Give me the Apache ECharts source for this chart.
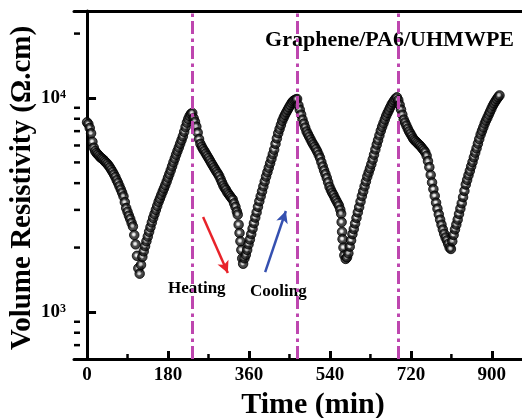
<!DOCTYPE html>
<html><head><meta charset="utf-8">
<script src="https://cdn.jsdelivr.net/npm/echarts@6/dist/echarts.min.js"></script>
<style>html,body{margin:0;padding:0;background:#fff}#c{width:522px;height:418px}</style>
</head><body><div id="c"></div>
<script>
// ---- data (time in min, volume resistivity in Ω.cm) ----
const xTickLabels = [0, 180, 360, 540, 720, 900];
const xMinorTicks = [90, 270, 450, 630, 810];
const yTickLabels = [1000, 10000];
const yMinorTicks = [600, 700, 800, 900, 2000, 3000, 4000, 5000, 6000, 7000, 8000, 9000, 20000];
const transitionTimes = [233, 467, 691];

const heat1T = [0,3,6,9,12,15,18,21,24,27,30,33,36,39,42,45,48,51,54,57,60,63,66,69,72,75,78,81,84,87,90,93,96,99,102,105,108,111,114,117];
const heat1V = [7700,7550,7240,6840,6240,5860,5650,5530,5450,5360,5270,5220,5150,5070,5000,4920,4830,4730,4620,4510,4390,4270,4130,4010,3870,3740,3610,3470,3260,3060,2940,2820,2720,2610,2510,2290,2070,1830,1600,1510];
const cool1T = [120,123,126,129,132,135,138,141,144,147,150,153,156,159,162,165,168,171,174,177,180,183,186,189,192,195,198,201,204,207,210,213,216,219,222,225,228,231,234];
const cool1V = [1660,1810,1920,2030,2140,2250,2370,2490,2620,2750,2870,3000,3130,3270,3390,3520,3650,3780,3920,4070,4240,4410,4590,4790,5000,5210,5430,5650,5870,6110,6350,6620,6950,7310,7670,7980,8240,8430,8510];
const heat2T = [237,240,243,246,249,252,255,258,261,264,267,270,273,276,279,282,285,288,291,294,297,300,303,306,309,312,315,318,321,324,327,330,333,335,337,339,341,343,345,347];
const heat2V = [8040,7730,7350,6890,6430,6110,5920,5770,5640,5500,5370,5240,5110,4980,4860,4740,4630,4520,4420,4310,4170,4030,3900,3800,3720,3620,3550,3480,3410,3350,3220,3100,2950,2850,2560,2340,2140,1950,1780,1680];
const cool2T = [350,353,356,359,362,365,368,371,374,377,380,383,386,389,392,395,398,401,404,407,410,413,416,419,422,425,428,431,434,437,440,443,446,449,452,455,458,461,464,467];
const cool2V = [1780,1850,1950,2070,2180,2310,2450,2600,2760,2920,3100,3290,3470,3660,3860,4070,4290,4500,4720,4950,5200,5460,5730,6100,6470,6840,7160,7480,7820,8090,8340,8570,8810,9040,9270,9490,9660,9770,9840,9890];
const heat3T = [470,473,476,479,482,485,488,491,494,497,500,503,506,509,512,515,518,521,524,527,530,533,536,539,542,545,548,551,554,557,560,563,565,566,567,568,570,572,575];
const heat3V = [9230,8810,8360,7930,7590,7280,6980,6780,6590,6400,6220,6070,5920,5770,5610,5430,5250,5010,4790,4590,4410,4230,4040,3850,3720,3610,3520,3410,3320,3230,3140,3010,2880,2630,2370,2190,2000,1840,1770];
const cool3T = [578,581,584,587,590,593,596,599,602,605,608,611,614,617,620,623,626,629,632,635,638,641,644,647,650,653,656,659,662,665,668,671,674,677,680,683,686,689];
const cool3V = [1800,1880,2020,2160,2310,2440,2590,2750,2920,3090,3280,3480,3660,3860,4070,4290,4480,4680,4900,5150,5430,5740,6050,6350,6680,7020,7330,7620,7930,8240,8510,8770,9040,9310,9530,9750,9930,10070];
const heat4T = [692,695,698,701,704,707,710,713,716,719,722,725,728,731,734,737,740,743,746,749,752,755,758,761,764,767,770,773,776,779,782,785,788,791,794,797,800,803,806,809];
const heat4V = [9770,9290,8830,8360,7930,7670,7430,7190,6980,6810,6640,6470,6350,6270,6170,6080,6000,5900,5790,5690,5570,5370,5070,4750,4370,4030,3750,3490,3240,3040,2860,2700,2560,2430,2320,2230,2160,2080,2000,1970];
const cool4T = [812,815,818,821,824,827,830,833,836,839,842,845,848,851,854,857,860,863,866,869,872,875,878,881,884,887,890,893,896,899,902,905,908,911,914,917];
const cool4V = [2140,2290,2430,2560,2700,2870,3040,3220,3440,3680,3940,4140,4350,4560,4790,5020,5280,5550,5820,6120,6430,6750,7020,7290,7590,7850,8090,8360,8630,8910,9200,9440,9660,9890,10090,10280];

// annotation arrows (data coordinates)
const heatArrow = [[258, 2780], [313, 1520]];
const coolArrow = [[396, 1537], [442, 2965]];

// ---- build ----
const segs = [[heat1T,heat1V],[cool1T,cool1V],[heat2T,heat2V],[cool2T,cool2V],[heat3T,heat3V],[cool3T,cool3V],[heat4T,heat4V],[cool4T,cool4V]];
const points = [];
segs.forEach(([t, v]) => t.forEach((x, i) => points.push([x, v[i]])));

const FONT = "'Liberation Serif','Times New Roman',serif";
const X_MIN = -29, X_MAX = 967, Y_MIN = 603, Y_MAX = 25500;

const chart = echarts.init(document.getElementById('c'), null, {renderer: 'canvas'});
chart.setOption({
  animation: false,
  backgroundColor: '#fff',
  grid: {left: 74, right: 0, top: 11, bottom: 59},
  xAxis: [{
    type: 'value', min: X_MIN, max: X_MAX, position: 'bottom',
    axisLine: {onZero: false, lineStyle: {color: '#000', width: 3}},
    axisTick: {inside: true, length: 8, customValues: xTickLabels, lineStyle: {color: '#000', width: 3}},
    axisLabel: {customValues: xTickLabels, color: '#000', fontSize: 19, fontWeight: 'bold', fontFamily: FONT, margin: 7},
    splitLine: {show: false}
  }, {
    type: 'value', min: X_MIN, max: X_MAX, position: 'top',
    axisLine: {onZero: false, lineStyle: {color: '#000', width: 3}},
    axisTick: {show: false}, axisLabel: {show: false}, splitLine: {show: false}
  }],
  yAxis: [{
    type: 'log', logBase: 10, min: Y_MIN, max: Y_MAX,
    axisLine: {lineStyle: {color: '#000', width: 3}},
    axisTick: {inside: true, length: 9, customValues: yTickLabels, lineStyle: {color: '#000', width: 3}},
    axisLabel: {
      margin: 8,
      customValues: yTickLabels,
      formatter: v => '{b|10}{s|' + Math.round(Math.log10(v)) + '}',
      rich: {
        b: {fontSize: 19, fontWeight: 'bold', fontFamily: FONT, color: '#000'},
        s: {fontSize: 12, fontWeight: 'bold', fontFamily: FONT, color: '#000', verticalAlign: 'top'}
      }
    },
    splitLine: {show: false}, minorTick: {show: false}
  }],
  series: [{
    type: 'scatter',
    data: points,
    symbol: 'circle', symbolSize: 9.5,
    itemStyle: {
      color: {type: 'radial', x: 0.45, y: 0.45, r: 0.6, colorStops: [
        {offset: 0, color: '#ffffff'}, {offset: 0.2, color: '#d0d0d0'},
        {offset: 0.42, color: '#222222'}, {offset: 1, color: '#000000'}]},
      borderColor: '#000', borderWidth: 1
    },
    markLine: {
      silent: true, animation: false,
      symbol: ['none', 'none'],
      label: {show: false},
      data: transitionTimes.map(t => ({
        xAxis: t,
        lineStyle: {color: '#be46af', width: 3, type: [13, 4, 3.5, 4.5]}
      })).concat([
        [{coord: heatArrow[0], symbol: 'none', lineStyle: {color: '#e8232a', width: 2.5, type: 'solid'}},
         {coord: heatArrow[1], symbol: 'arrow', symbolSize: [9, 12]}],
        [{coord: coolArrow[0], symbol: 'none', lineStyle: {color: '#3550b0', width: 2.5, type: 'solid'}},
         {coord: coolArrow[1], symbol: 'arrow', symbolSize: [9, 12]}]
      ])
    }
  }, {
    type: 'custom', silent: true,
    data: yMinorTicks.map(v => [X_MIN, v]),
    renderItem: (params, api) => {
      const p = api.coord([api.value(0), api.value(1)]);
      return {type: 'line', shape: {x1: p[0], y1: p[1], x2: p[0] + 6, y2: p[1]}, style: {stroke: '#000', lineWidth: 2.5}};
    }
  }, {
    type: 'custom', silent: true,
    data: xMinorTicks.map(t => [t, Y_MIN]),
    renderItem: (params, api) => {
      const p = api.coord([api.value(0), api.value(1)]);
      return {type: 'line', shape: {x1: p[0], y1: p[1], x2: p[0], y2: p[1] - 5}, style: {stroke: '#000', lineWidth: 2.5}};
    }
  }],
  graphic: [
    {type: 'text', x: 514, y: 40, style: {text: 'Graphene/PA6/UHMWPE', align: 'right', verticalAlign: 'middle', fill: '#000', font: 'bold 22px ' + FONT}},
    {type: 'text', x: 168, y: 289, style: {text: 'Heating', align: 'left', verticalAlign: 'middle', fill: '#000', font: 'bold 17px ' + FONT}},
    {type: 'text', x: 250, y: 292, style: {text: 'Cooling', align: 'left', verticalAlign: 'middle', fill: '#000', font: 'bold 17px ' + FONT}},
    {type: 'text', x: 313, y: 405, style: {text: 'Time (min)', align: 'center', verticalAlign: 'middle', fill: '#000', font: 'bold 30px ' + FONT}},
    {type: 'text', x: 23, y: 188, rotation: Math.PI / 2, style: {text: 'Volume Resistivity (Ω.cm)', align: 'center', verticalAlign: 'middle', fill: '#000', font: 'bold 29px ' + FONT}}
  ]
});
</script>
</body></html>
